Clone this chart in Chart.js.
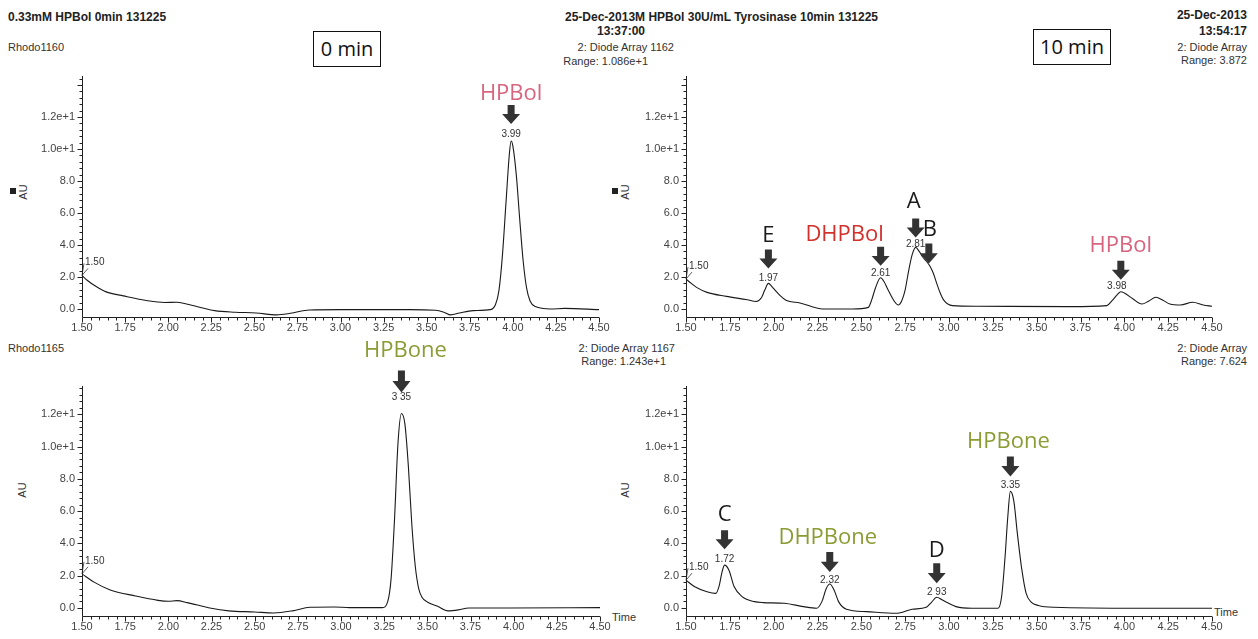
<!DOCTYPE html>
<html>
<head>
<meta charset="utf-8">
<title>HPBol tyrosinase chromatograms</title>
<script src="https://cdn.jsdelivr.net/npm/chart.js@4.4.1/dist/chart.umd.min.js"></script>
<style>
  body { margin: 0; background: #fff; width: 1258px; height: 639px; overflow: hidden; position: relative;
         font-family: "Liberation Sans", Arial, sans-serif; color: #333; }
  canvas { position: absolute; left: 0; top: 0; }
  .t { position: absolute; white-space: nowrap; font-size: 11px; line-height: 12px; }
  .b { font-weight: bold; font-size: 12px; color: #222; }
  .r { text-align: right; }
  .box { position: absolute; border: 1px solid #111; font-family: "Open Sans", sans-serif; font-size: 20px;
         color: #111; text-align: center; box-sizing: border-box; }
  .au { position: absolute; font-size: 11px; transform: rotate(-90deg); transform-origin: center; }
  .sq { position: absolute; width: 6px; height: 6px; background: #222; }
</style>
</head>
<body>
<div class="t b" style="left:8px;top:11px">0.33mM HPBol 0min 131225</div>
<div class="t" style="left:8px;top:41px">Rhodo1160</div>
<div class="t b" style="left:565px;top:11px">25-Dec-2013M HPBol 30U/mL Tyrosinase 10min 131225</div>
<div class="t b" style="left:597px;top:25px">13:37:00</div>
<div class="t r" style="right:584px;top:41px">2: Diode Array 1162</div>
<div class="t r" style="right:610px;top:55px">Range: 1.086e+1</div>
<div class="box" style="left:313px;top:31px;width:68px;height:36px;line-height:34px">0 min</div>

<div class="t b r" style="right:11px;top:9px">25-Dec-2013</div>
<div class="t b r" style="right:11px;top:25px">13:54:17</div>
<div class="t r" style="right:11px;top:41px">2: Diode Array</div>
<div class="t r" style="right:11px;top:54px">Range: 3.872</div>
<div class="box" style="left:1033px;top:29px;width:78px;height:36px;line-height:34px">10 min</div>

<div class="t" style="left:8px;top:342px">Rhodo1165</div>
<div class="t r" style="right:583px;top:342px">2: Diode Array 1167</div>
<div class="t r" style="right:592px;top:355px">Range: 1.243e+1</div>
<div class="t r" style="right:11px;top:342px">2: Diode Array</div>
<div class="t r" style="right:11px;top:355px">Range: 7.624</div>

<div class="sq" style="left:10px;top:188px"></div>
<div class="au" style="left:15px;top:186px">AU</div>
<div class="sq" style="left:612px;top:188px"></div>
<div class="au" style="left:617px;top:186px">AU</div>
<div class="au" style="left:14px;top:484px">AU</div>
<div class="au" style="left:617px;top:484px">AU</div>
<div class="t" style="left:612px;top:611px">Time</div>
<div class="t" style="left:1214px;top:606px">Time</div>

<canvas id="tl" width="1258" height="639"></canvas>
<canvas id="tr" width="1258" height="639"></canvas>
<canvas id="bl" width="1258" height="639"></canvas>
<canvas id="br" width="1258" height="639"></canvas>

<script>
// ---- data ----
const xTickValues = [1.5, 1.75, 2.0, 2.25, 2.5, 2.75, 3.0, 3.25, 3.5, 3.75, 4.0, 4.25, 4.5];
const xTickLabels = ['1.50', '1.75', '2.00', '2.25', '2.50', '2.75', '3.00', '3.25', '3.50', '3.75', '4.00', '4.25', '4.50'];
const yTickValues = [0, 2, 4, 6, 8, 10, 12];
const yTickLabels = ['0.0', '2.0', '4.0', '6.0', '8.0', '1.0e+1', '1.2e+1'];

// 0 min, Diode Array 1162 (HPBol)
const bol0Time = [1.50, 1.53, 1.58, 1.64, 1.74, 1.88, 1.98, 2.05, 2.10, 2.15, 2.27, 2.39, 2.51, 2.63, 2.71, 2.82, 3.00, 3.40, 3.55, 3.60, 3.64, 3.69, 3.77, 3.87,
                  3.90, 3.92, 3.94, 3.96, 3.98, 3.99, 4.00, 4.02, 4.04, 4.06, 4.08, 4.10, 4.13, 4.22, 4.30, 4.50];
const bol0Signal = [2.1, 1.8, 1.42, 1.07, 0.82, 0.52, 0.41, 0.42, 0.33, 0.2, -0.1, -0.2, -0.25, -0.37, -0.27, -0.06, -0.04, -0.04, -0.08, -0.2, -0.37, -0.25, -0.1, -0.04,
                    0.3, 1.2, 3.4, 6.6, 9.7, 10.5, 10.2, 8.4, 5.6, 3.0, 1.3, 0.5, 0.15, 0.0, 0.04, -0.04];

// 10 min, Diode Array 1162 (HPBol + products)
const bol10Time = [1.50, 1.53, 1.56, 1.62, 1.73, 1.85, 1.90, 1.93, 1.95, 1.97, 1.99, 2.01, 2.04, 2.07, 2.15, 2.28, 2.45, 2.54, 2.56, 2.58, 2.61, 2.63, 2.65, 2.69,
                   2.71, 2.73, 2.75, 2.77, 2.79, 2.81, 2.83, 2.85, 2.87, 2.89, 2.91, 2.93, 2.95, 2.97, 3.02, 3.16, 3.69, 3.90, 3.93, 3.96, 3.98, 4.00,
                   4.05, 4.10, 4.14, 4.18, 4.22, 4.26, 4.32, 4.39, 4.45, 4.50];
const bol10Signal = [1.87, 1.6, 1.35, 1.04, 0.79, 0.58, 0.47, 0.7, 1.2, 1.6, 1.4, 1.15, 0.8, 0.55, 0.38, 0.0, 0.0, 0.1, 0.6, 1.3, 1.95, 1.7, 1.25, 0.45,
                     0.25, 0.5, 1.2, 2.4, 3.4, 3.85, 3.6, 3.25, 3.0, 2.7, 2.25, 1.6, 1.0, 0.55, 0.21, 0.17, 0.15, 0.21, 0.52, 0.9, 1.08, 1.0,
                     0.62, 0.31, 0.5, 0.73, 0.55, 0.31, 0.25, 0.42, 0.25, 0.17];

// 0 min, Diode Array 1167 (HPBone)
const bone0Time = [1.50, 1.57, 1.66, 1.81, 1.94, 2.00, 2.05, 2.11, 2.24, 2.35, 2.50, 2.61, 2.72, 2.82, 2.96, 3.05, 3.24, 3.27, 3.29, 3.31, 3.33, 3.35,
                   3.37, 3.39, 3.41, 3.43, 3.45, 3.47, 3.50, 3.56, 3.62, 3.68, 3.74, 3.98, 4.50];
const bone0Signal = [2.11, 1.6, 1.13, 0.74, 0.47, 0.41, 0.45, 0.33, 0.0, -0.18, -0.25, -0.31, -0.18, 0.04, 0.06, 0.02, 0.02, 0.37, 1.8, 5.5, 10.2, 12.05,
                     11.4, 8.8, 5.2, 2.6, 1.2, 0.65, 0.37, 0.1, -0.18, -0.12, 0.0, 0.0, 0.02];

// 10 min, Diode Array 1167 (HPBone + products)
const bone10Time = [1.50, 1.55, 1.62, 1.67, 1.69, 1.705, 1.72, 1.745, 1.775, 1.82, 1.89, 1.94, 2.06, 2.17, 2.245, 2.275, 2.30, 2.32, 2.345, 2.37, 2.415,
                    2.53, 2.70, 2.79, 2.87, 2.90, 2.93, 2.96, 2.99, 3.04, 3.13, 3.28, 3.30, 3.32, 3.335, 3.35, 3.37, 3.39, 3.415, 3.44, 3.47, 3.51, 3.60, 4.08, 4.50];
const bone10Signal = [1.72, 1.31, 1.0, 0.9, 1.4, 2.2, 2.65, 2.34, 1.31, 0.7, 0.39, 0.33, 0.29, 0.08, -0.02, 0.39, 1.2, 1.48, 1.1, 0.39, -0.08,
                      -0.23, -0.33, -0.08, 0.04, 0.35, 0.66, 0.5, 0.33, 0.08, -0.02, -0.02, 0.7, 3.2, 5.6, 7.22, 6.6, 4.6, 2.4, 0.9, 0.35, 0.15, 0.04, -0.02, -0.02];

// peak annotations: time, retention label, compound name
const tlPeakTimes = [3.99];
const tlPeakLabels = ['3.99'];
const tlPeakNames = ['HPBol'];
const trPeakTimes = [1.97, 2.61, 2.81, 2.885, 3.98];
const trPeakLabels = ['1.97', '2.61', '2.81', '', '3.98'];
const trPeakNames = ['E', 'DHPBol', 'A', 'B', 'HPBol'];
const blPeakTimes = [3.35];
const blPeakLabels = ['3 35'];
const blPeakNames = ['HPBone'];
const brPeakTimes = [1.72, 2.32, 2.93, 3.35];
const brPeakLabels = ['1.72', '2.32', '2 93', '3.35'];
const brPeakNames = ['C', 'DHPBone', 'D', 'HPBone'];

// ---- styling ----
const PAGE_W = 1258, PAGE_H = 639;
const Y_AXIS_W = 44, X_AXIS_H = 22;
const PINK = '#d8657f', RED = '#d3302c', OLIVE = '#8c9c34', INK = '#1a1a1a';
const nameColors = { HPBol: PINK, DHPBol: RED, HPBone: OLIVE, DHPBone: OLIVE };

// offsets (px) relative to the trace point under each peak time
const tlMarkStyle = [{ rtDy: -7, tipDy: -17, h: 19, nameDx: 0, nameDy: -47 }];
const trMarkStyle = [
  { rtDy: -5, tipDy: -15, h: 19, nameDx: 0, nameDy: -48 },
  { rtDy: -5, tipDy: -12, h: 19, nameDx: -36, nameDy: -43 },
  { rtDy: -3, tipDy: -10, h: 19, nameDx: -2, nameDy: -46 },
  { rtDy: 0, tipDy: -1, h: 20, nameDx: 1, nameDy: -35 },
  { rtDy: -5, rtDx: -4, tipDy: -12, h: 19, nameDx: 0, nameDy: -46 }
];
const blMarkStyle = [{ rtDy: -16, tipDy: -21, h: 22, nameDx: 4, nameDy: -63 }];
const brMarkStyle = [
  { rtDy: -6, tipDy: -16, h: 19, nameDx: 0, nameDy: -50 },
  { rtDy: -4, tipDy: -12, h: 20, nameDx: -2, nameDy: -46 },
  { rtDy: -5, tipDy: -14, h: 20, nameDx: 0, nameDy: -47 },
  { rtDy: -6, tipDy: -15, h: 20, nameDx: -2, nameDy: -50 }
];

function signalAt(points, t) {
  for (let i = 1; i < points.length; i++) {
    if (points[i].x >= t) {
      const a = points[i - 1], b = points[i];
      return a.y + (b.y - a.y) * (t - a.x) / (b.x - a.x);
    }
  }
  return points[points.length - 1].y;
}

const axisMarks = {
  id: 'axisMarks',
  afterDraw(chart) {
    const { ctx, chartArea: a, scales: { x, y } } = chart;
    ctx.save();
    ctx.strokeStyle = '#222';
    ctx.lineWidth = 1;
    ctx.beginPath();
    const left = Math.round(a.left) + 0.5, bottom = Math.round(a.bottom) + 0.5;
    ctx.moveTo(left, a.top);
    ctx.lineTo(left, bottom);
    ctx.lineTo(Math.round(a.right), bottom);
    for (let i = 0; i <= 60; i++) {
      const px = Math.round(x.getPixelForValue(1.5 + i * 0.05)) + 0.5;
      ctx.moveTo(px, bottom);
      ctx.lineTo(px, bottom + (i % 5 === 0 ? 5 : 3));
    }
    for (let i = 0; i * 0.4 <= y.max; i++) {
      const py = Math.round(y.getPixelForValue(i * 0.4)) + 0.5;
      ctx.moveTo(left, py);
      ctx.lineTo(left - (i % 5 === 0 ? 5 : 3), py);
    }
    ctx.stroke();
    ctx.restore();
  }
};

const peakMarks = {
  id: 'peakMarks',
  afterDatasetsDraw(chart, args, opts) {
    const { ctx, scales: { x, y } } = chart;
    const pts = chart.data.datasets[0].data;
    ctx.save();
    // start-of-window label
    const sx = x.getPixelForValue(pts[0].x), sy = y.getPixelForValue(pts[0].y);
    ctx.strokeStyle = '#333';
    ctx.lineWidth = 0.8;
    ctx.beginPath();
    ctx.moveTo(sx, sy);
    ctx.lineTo(sx + 6, sy - 7);
    ctx.moveTo(sx, sy);
    ctx.lineTo(sx + 2, sy - 12);
    ctx.stroke();
    ctx.fillStyle = '#333';
    ctx.font = '10px "Liberation Sans", Arial, sans-serif';
    ctx.textAlign = 'left';
    ctx.textBaseline = 'middle';
    ctx.fillText('1.50', sx + 3, sy - 13);

    opts.times.forEach((t, i) => {
      const s = opts.style[i];
      const px = x.getPixelForValue(t);
      const py = y.getPixelForValue(signalAt(pts, t));
      ctx.textAlign = 'center';
      if (opts.labels[i]) {
        ctx.fillStyle = '#333';
        ctx.font = '10px "Liberation Sans", Arial, sans-serif';
        ctx.fillText(opts.labels[i], px + (s.rtDx || 0), py + s.rtDy);
      }
      const tip = py + s.tipDy, top = tip - s.h, neck = tip - s.h * 0.52;
      ctx.fillStyle = '#333';
      ctx.beginPath();
      ctx.rect(px - 3.5, top, 7, neck - top + 0.5);
      ctx.moveTo(px - 9, neck);
      ctx.lineTo(px + 9, neck);
      ctx.lineTo(px, tip);
      ctx.closePath();
      ctx.fill();
      const name = opts.names[i];
      ctx.fillStyle = nameColors[name] || INK;
      ctx.font = '22px "Open Sans", sans-serif';
      ctx.fillText(name, px + s.nameDx, py + s.nameDy);
    });
    ctx.restore();
  }
};

function makeChart(id, times, signal, area, yMax, peaks) {
  const points = times.map((t, i) => ({ x: t, y: signal[i] }));
  const tickFont = { family: '"Liberation Sans", Arial, sans-serif', size: 11 };
  return new Chart(document.getElementById(id), {
    type: 'line',
    data: {
      datasets: [{
        data: points,
        borderColor: INK,
        borderWidth: 1.1,
        pointRadius: 0,
        fill: false,
        cubicInterpolationMode: 'monotone'
      }]
    },
    options: {
      responsive: false,
      animation: false,
      events: [],
      layout: {
        padding: {
          left: area.left - Y_AXIS_W,
          right: PAGE_W - area.right,
          top: area.top,
          bottom: PAGE_H - area.bottom - X_AXIS_H
        }
      },
      plugins: { legend: { display: false }, tooltip: { enabled: false }, peakMarks: peaks },
      scales: {
        x: {
          type: 'linear', min: 1.5, max: 4.5,
          grid: { display: false, drawTicks: false },
          border: { display: false },
          afterBuildTicks: s => { s.ticks = xTickValues.map(v => ({ value: v })); },
          afterFit: s => { s.height = X_AXIS_H; },
          ticks: {
            autoSkip: false, maxRotation: 0, padding: 4, color: '#444', font: tickFont,
            callback: (v, i) => xTickLabels[i]
          }
        },
        y: {
          type: 'linear', min: -0.5, max: yMax,
          grid: { display: false, drawTicks: false },
          border: { display: false },
          afterBuildTicks: s => { s.ticks = yTickValues.map(v => ({ value: v })); },
          afterFit: s => { s.width = Y_AXIS_W; },
          ticks: {
            autoSkip: false, padding: 7, color: '#444', font: tickFont,
            callback: (v, i) => yTickLabels[i]
          }
        }
      }
    },
    plugins: [axisMarks, peakMarks]
  });
}

makeChart('tl', bol0Time, bol0Signal, { left: 82, right: 599, top: 76, bottom: 317 }, 14.5625,
  { times: tlPeakTimes, labels: tlPeakLabels, names: tlPeakNames, style: tlMarkStyle });
makeChart('tr', bol10Time, bol10Signal, { left: 686, right: 1212, top: 76, bottom: 317 }, 14.5625,
  { times: trPeakTimes, labels: trPeakLabels, names: trPeakNames, style: trMarkStyle });
makeChart('bl', bone0Time, bone0Signal, { left: 82, right: 600, top: 386, bottom: 616 }, 13.75,
  { times: blPeakTimes, labels: blPeakLabels, names: blPeakNames, style: blMarkStyle });
makeChart('br', bone10Time, bone10Signal, { left: 686, right: 1212, top: 386, bottom: 616 }, 13.75,
  { times: brPeakTimes, labels: brPeakLabels, names: brPeakNames, style: brMarkStyle });
</script>
</body>
</html>
